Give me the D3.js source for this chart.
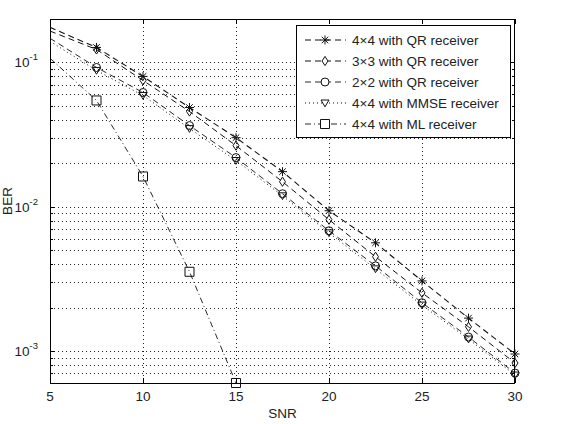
<!DOCTYPE html>
<html><head><meta charset="utf-8">
<script src="https://cdn.jsdelivr.net/npm/d3@7"></script>
<style>
body{margin:0;background:#fff;}
svg{display:block;}
text{font-family:"Liberation Sans",Arial,sans-serif;fill:#222;}
</style></head>
<body>
<script>
// ---- data ----
const snr = [5, 7.5, 10, 12.5, 15, 17.5, 20, 22.5, 25, 27.5, 30];
const ber4x4QR  = [0.175, 0.127, 0.080, 0.0487, 0.0301, 0.0175, 0.00938, 0.00562, 0.00306, 0.00169, 0.000953];
const ber3x3QR  = [0.165, 0.123, 0.0750, 0.0457, 0.0265, 0.0149, 0.00813, 0.00450, 0.00253, 0.00147, 0.000826];
const ber2x2QR  = [0.147, 0.0923, 0.0619, 0.0365, 0.0219, 0.0123, 0.00681, 0.00389, 0.00216, 0.00125, 0.000703];
const ber4x4MMSE= [0.140, 0.0880, 0.0590, 0.0348, 0.0209, 0.0119, 0.00659, 0.00371, 0.00208, 0.00121, 0.000681];
const snrML = [5, 7.5, 10, 12.5, 15];
const ber4x4ML  = [0.107, 0.0545, 0.0162, 0.00354, 0.0006];
const seriesNames = ["4\u00d74 with QR receiver","3\u00d73 with QR receiver","2\u00d72 with QR receiver","4\u00d74 with MMSE receiver","4\u00d74 with ML receiver"];
const xTicks = [5, 10, 15, 20, 25, 30];
const yTickExps = [-1, -2, -3];
const xDomain = [5, 30];
const yDomain = [6e-4, 0.2];

// ---- layout ----
const W = 567, H = 424;
const m = {l:50, r:52, t:19, b:41};
const FS = 13.5;
const svg = d3.select("body").append("svg").attr("width", W).attr("height", H);
const x = d3.scaleLinear().domain(xDomain).range([m.l, W - m.r]);
const y = d3.scaleLog().domain(yDomain).range([H - m.b, m.t]);
const X0 = x.range()[0], X1 = x.range()[1], Y0 = y.range()[0], Y1 = y.range()[1];

svg.append("defs").append("clipPath").attr("id","clip")
  .append("rect").attr("x",X0).attr("y",Y1).attr("width",X1-X0).attr("height",Y0-Y1);

// grid
const g = svg.append("g");
const gridStyle = s => s.attr("stroke","#222").attr("stroke-width",1).attr("stroke-dasharray","1,3").attr("fill","none");
xTicks.filter(t => t > xDomain[0] && t < xDomain[1]).forEach(t => {
  g.append("line").attr("x1",Math.round(x(t))+0.5).attr("x2",Math.round(x(t))+0.5).attr("y1",Y1).attr("y2",Y0).call(gridStyle);
});
const yAll = y.ticks().filter(v => v >= yDomain[0]*1.0001 && v <= yDomain[1]*0.9999);
yAll.forEach(v => {
  g.append("line").attr("x1",X0).attr("x2",X1).attr("y1",Math.round(y(v))+0.5).attr("y2",Math.round(y(v))+0.5).call(gridStyle);
});

// ticks (inward)
const tk = svg.append("g").attr("stroke","#000").attr("stroke-width",1);
xTicks.forEach(t => {
  const px = Math.round(x(t))+0.5;
  tk.append("line").attr("x1",px).attr("x2",px).attr("y1",Y0).attr("y2",Y0-5);
  tk.append("line").attr("x1",px).attr("x2",px).attr("y1",Y1).attr("y2",Y1+5);
});
y.ticks().filter(v => v >= yDomain[0] && v <= yDomain[1]).forEach(v => {
  const py = Math.round(y(v))+0.5;
  const major = Math.abs(Math.log10(v) - Math.round(Math.log10(v))) < 1e-9;
  const len = major ? 5 : 3;
  tk.append("line").attr("x1",X0).attr("x2",X0+len).attr("y1",py).attr("y2",py);
  tk.append("line").attr("x1",X1).attr("x2",X1-len).attr("y1",py).attr("y2",py);
});

// frame
svg.append("rect").attr("x",X0+0.5).attr("y",Y1+0.5).attr("width",X1-X0-1).attr("height",Y0-Y1)
  .attr("fill","none").attr("stroke","#000").attr("stroke-width",1);

// tick labels
xTicks.forEach(t => {
  svg.append("text").attr("x",x(t)).attr("y",Y0+18).attr("text-anchor","middle")
    .attr("font-size",FS).text(t);
});
yTickExps.forEach(e => {
  const t = svg.append("text").attr("x",X0-12).attr("y",y(Math.pow(10,e))+5).attr("text-anchor","end").attr("font-size",FS);
  t.append("tspan").text("10");
  t.append("tspan").attr("font-size",9.5).attr("dy",-7).text("-" + Math.abs(e));
});
svg.append("text").attr("x",(X0+X1)/2).attr("y",418).attr("text-anchor","middle").attr("font-size",FS).text("SNR");
svg.append("text").attr("transform",`translate(${12},${(Y0+Y1)/2}) rotate(-90)`).attr("text-anchor","middle").attr("font-size",FS).text("BER");

// markers
function markerPath(type, s) {
  const r = s/2;
  switch(type){
    case "star": {
      const d = r*0.72;
      return `M${-r},0L${r},0M0,${-r}L0,${r}M${-d},${-d}L${d},${d}M${-d},${d}L${d},${-d}`;
    }
    case "diamond": return `M0,${-r*1.15}L${r*0.75},0L0,${r*1.15}L${-r*0.75},0Z`;
    case "circle": return `M${r},0A${r},${r},0,1,1,${-r},0A${r},${r},0,1,1,${r},0Z`;
    case "tri": return `M${-r},${-r*0.75}L${r},${-r*0.75}L0,${r*0.95}Z`;
    case "square": return `M${-r},${-r}L${r},${-r}L${r},${r}L${-r},${r}Z`;
  }
}

const series = [
  {name:seriesNames[0], xs:snr, ys:ber4x4QR,  dash:"6,4",     mk:"star",    ms:9, lw:1.1},
  {name:seriesNames[1], xs:snr, ys:ber3x3QR,  dash:"6,4",     mk:"diamond", ms:8, lw:1},
  {name:seriesNames[2], xs:snr, ys:ber2x2QR,  dash:"6,4",     mk:"circle",  ms:8, lw:0.9},
  {name:seriesNames[3], xs:snr, ys:ber4x4MMSE,dash:"1,3",     mk:"tri",     ms:8, lw:1},
  {name:seriesNames[4], xs:snrML, ys:ber4x4ML, dash:"6,3,1,3", mk:"square",  ms:9, lw:0.9}
];

const line = d3.line().x(d => x(d[0])).y(d => y(d[1]));
const plot = svg.append("g").attr("clip-path","url(#clip)");
series.forEach(s => {
  const pts = s.xs.map((v,i) => [v, s.ys[i]]);
  plot.append("path").attr("d", line(pts)).attr("fill","none").attr("stroke","#111")
    .attr("stroke-width", s.lw).attr("stroke-dasharray", s.dash);
});
const mg = svg.append("g");
series.forEach(s => {
  s.xs.forEach((v,i) => {
    if (v <= xDomain[0]) return;
    mg.append("path").attr("d", markerPath(s.mk, s.ms))
      .attr("transform", `translate(${x(v)},${y(s.ys[i])})`)
      .attr("fill","none").attr("stroke","#111").attr("stroke-width",1);
  });
});

// legend
const L = {x:296, y:25, w:214, h:112};
const lg = svg.append("g");
lg.append("rect").attr("x",L.x+0.5).attr("y",L.y+0.5).attr("width",L.w).attr("height",L.h)
  .attr("fill","#fff").attr("stroke","#000").attr("stroke-width",1);
series.forEach((s,i) => {
  const cy = L.y + 15 + i*21;
  lg.append("line").attr("x1",L.x+9).attr("x2",L.x+50).attr("y1",cy).attr("y2",cy)
    .attr("stroke","#111").attr("stroke-width",s.lw).attr("stroke-dasharray", s.dash);
  lg.append("path").attr("d", markerPath(s.mk, s.ms)).attr("transform",`translate(${L.x+29},${cy})`)
    .attr("fill","#fff").attr("stroke","#111").attr("stroke-width",1);
  lg.append("text").attr("x",L.x+56).attr("y",cy+5).attr("font-size",FS).text(s.name);
});
</script>
</body></html>
